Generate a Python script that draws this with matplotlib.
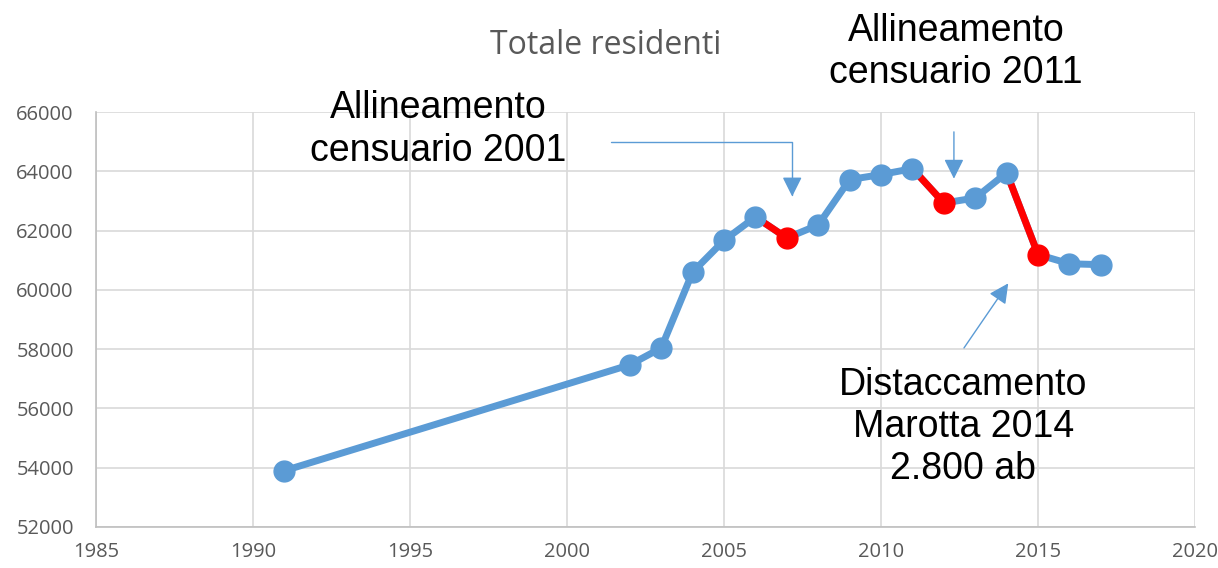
import matplotlib.pyplot as plt
import numpy as np

years = [1991, 2002, 2003, 2004, 2005, 2006, 2007, 2008, 2009,
         2010, 2011, 2012, 2013, 2014, 2015, 2016, 2017]
residents = [53900, 57470, 58040, 60600, 61670, 62460, 61750, 62190, 63720,
             63890, 64090, 62930, 63100, 63950, 61190, 60880, 60850]
# years whose incoming segment is a census alignment / detachment
red_years = [2007, 2012, 2015]

blue = '#5B9BD5'
red = '#FF0000'

fig = plt.figure(figsize=(12.18, 5.68), dpi=100)
ax = fig.add_axes([0.0788, 0.0722, 0.9024, 0.7306])

x = np.array(years)
y = np.array(residents)
ax.plot(x, y, color=blue, lw=5, solid_capstyle='round', zorder=3)
for ry in red_years:
    i = years.index(ry)
    ax.plot(x[i-1:i+1], y[i-1:i+1], color=red, lw=5, zorder=4)
is_red = np.isin(x, red_years)
ax.plot(x[~is_red], y[~is_red], 'o', color=blue, ms=15, zorder=5)
ax.plot(x[is_red], y[is_red], 'o', color=red, ms=15, zorder=5)

ax.set_xlim(1985, 2020)
ax.set_ylim(52000, 66000)
ax.set_xticks(range(1985, 2021, 5))
ax.set_yticks(range(52000, 66001, 2000))
ax.grid(True, color='#D9D9D9', lw=1.2)
ax.set_axisbelow(True)
for s in ['top', 'right']:
    ax.spines[s].set_visible(False)
for s in ['left', 'bottom']:
    ax.spines[s].set_color('#BFBFBF')
    ax.spines[s].set_linewidth(1.2)
ax.tick_params(length=0, labelsize=14.5, labelcolor='#595959')
ax.tick_params(axis='y', pad=16)
ax.tick_params(axis='x', pad=11)
for lab in ax.get_xticklabels() + ax.get_yticklabels():
    lab.set_family('Open Sans')

fig.text(0.497, 0.92, 'Totale residenti', ha='center', va='center',
         fontsize=23, color='#595959', family='Open Sans')

afont = dict(fontsize=27, family='Liberation Sans', color='black',
             ha='center', va='center', linespacing=1.22)
fig.text(0.36, 0.772, 'Allineamento\ncensuario 2001', **afont)
fig.text(0.785, 0.908, 'Allineamento\ncensuario 2011', **afont)
fig.text(0.791, 0.248, 'Distaccamento\nMarotta 2014\n2.800 ab', **afont)

arrow = dict(arrowstyle='-|>', color=blue, lw=1, mutation_scale=30,
             shrinkA=0, shrinkB=0)
ax.annotate('', xy=(2007.17, 63150), xytext=(2001.4, 64988),
            arrowprops=dict(arrow, connectionstyle='angle,angleA=0,angleB=90,rad=0'))
ax.annotate('', xy=(2012.32, 63750), xytext=(2012.32, 65330), arrowprops=arrow)
ax.annotate('', xy=(2014.05, 60220), xytext=(2012.64, 58040), arrowprops=arrow)

fig.savefig('out.png', dpi=100)
